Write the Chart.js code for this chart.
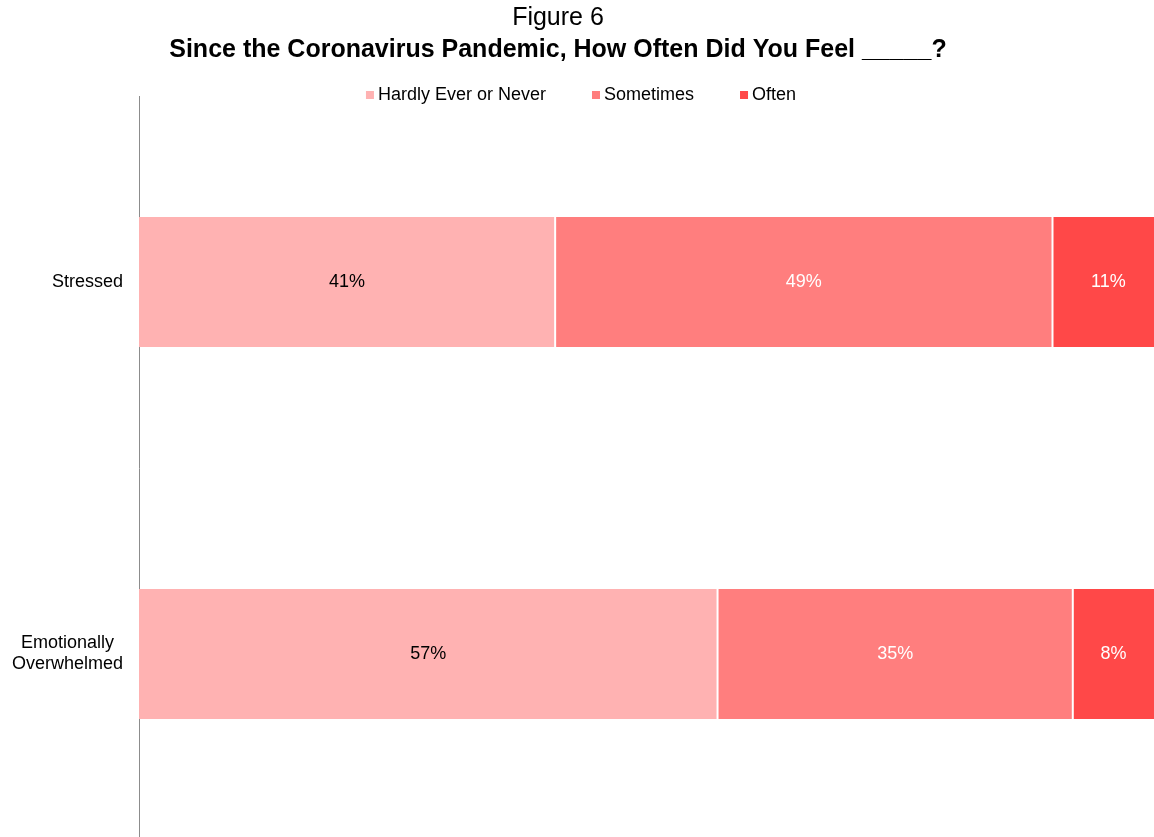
<!DOCTYPE html>
<html>
<head>
<meta charset="utf-8">
<title>Figure 6</title>
<script src="https://cdn.jsdelivr.net/npm/chart.js@4"></script>
<style>
    html, body { margin: 0; background: #fff; overflow: hidden; }
    .chart-box { position: relative; width: 1154px; height: 840px; }
</style>
</head>
<body>
<div class="chart-box">
    <canvas id="chart"></canvas>
</div>
<script>
// data
const categories = [['Stressed'], ['Emotionally', 'Overwhelmed']];
const seriesNames = ['Hardly Ever or Never', 'Sometimes', 'Often'];
const hardlyEver = [41, 57];
const sometimes = [49, 35];
const often = [11, 8];
const seriesColors = ['#FFB2B2', '#FF7E7E', '#FF4848'];
const labelColors = ['#000000', '#ffffff', '#ffffff'];

const FONT = '"Liberation Sans", Arial, sans-serif';

// titles, legend, category names and value labels
const overlayText = {
    id: 'overlayText',
    afterDraw(chart) {
        const c = chart.ctx;
        const area = chart.chartArea;
        c.save();
        c.textBaseline = 'middle';
        c.fillStyle = '#000';

        // title
        c.textAlign = 'center';
        c.font = '25px ' + FONT;
        c.fillText('Figure 6', 558, 18);
        c.font = 'bold 25px ' + FONT;
        c.fillText('Since the Coronavirus Pandemic, How Often Did You Feel _____?', 558, 50);

        // legend
        c.font = '18px ' + FONT;
        const box = 8, boxGap = 4, itemGap = 46;
        let total = 0;
        seriesNames.forEach((n, i) => {
            total += box + boxGap + c.measureText(n).width + (i < seriesNames.length - 1 ? itemGap : 0);
        });
        let x = 581 - total / 2;
        const ly = 95;
        c.textAlign = 'left';
        seriesNames.forEach((n, i) => {
            c.fillStyle = seriesColors[i];
            c.fillRect(x, ly - box / 2, box, box);
            c.fillStyle = '#000';
            c.fillText(n, x + box + boxGap, ly);
            x += box + boxGap + c.measureText(n).width + itemGap;
        });

        // category labels, lines centred inside a right aligned block
        const yScale = chart.scales.y;
        c.textAlign = 'center';
        categories.forEach((lines, i) => {
            const cy = yScale.getPixelForValue(i);
            const w = Math.max(...lines.map(l => c.measureText(l).width));
            const cx = area.left - 16 - w / 2;
            const lh = 21;
            lines.forEach((l, k) => {
                c.fillText(l, cx, cy + (k - (lines.length - 1) / 2) * lh);
            });
        });

        // value labels
        chart.data.datasets.forEach((ds, i) => {
            chart.getDatasetMeta(i).data.forEach((bar, j) => {
                const p = bar.getCenterPoint();
                c.fillStyle = labelColors[i];
                c.fillText(ds.data[j] + '%', p.x, p.y);
            });
        });
        c.restore();
    }
};

const ctx = document.getElementById('chart').getContext('2d');
const chart = new Chart(ctx, {
    type: 'bar',
    data: {
        labels: categories,
        datasets: [
            { label: seriesNames[0], data: hardlyEver, backgroundColor: seriesColors[0],
              borderColor: '#fff', borderWidth: { left: 0, right: 1, top: 0, bottom: 0 } },
            { label: seriesNames[1], data: sometimes, backgroundColor: seriesColors[1],
              borderColor: '#fff', borderWidth: { left: 1, right: 1, top: 0, bottom: 0 } },
            { label: seriesNames[2], data: often, backgroundColor: seriesColors[2],
              borderColor: '#fff', borderWidth: { left: 1, right: 0, top: 0, bottom: 0 } }
        ]
    },
    options: {
        indexAxis: 'y',
        responsive: true,
        maintainAspectRatio: false,
        animation: false,
        layout: { padding: { top: 96, right: 0, bottom: 0, left: 0 } },
        datasets: {
            bar: { barPercentage: 0.35, categoryPercentage: 1, borderSkipped: false }
        },
        scales: {
            x: { stacked: true, min: 0, max: 100, display: false },
            y: {
                stacked: true,
                ticks: { display: false },
                grid: { display: false },
                border: { display: true, color: '#8c8c8c', width: 1 },
                afterFit(scale) { scale.width = 139; }
            }
        },
        plugins: {
            legend: { display: false },
            title: { display: false },
            tooltip: { enabled: false }
        }
    },
    plugins: [overlayText]
});
</script>
</body>
</html>
